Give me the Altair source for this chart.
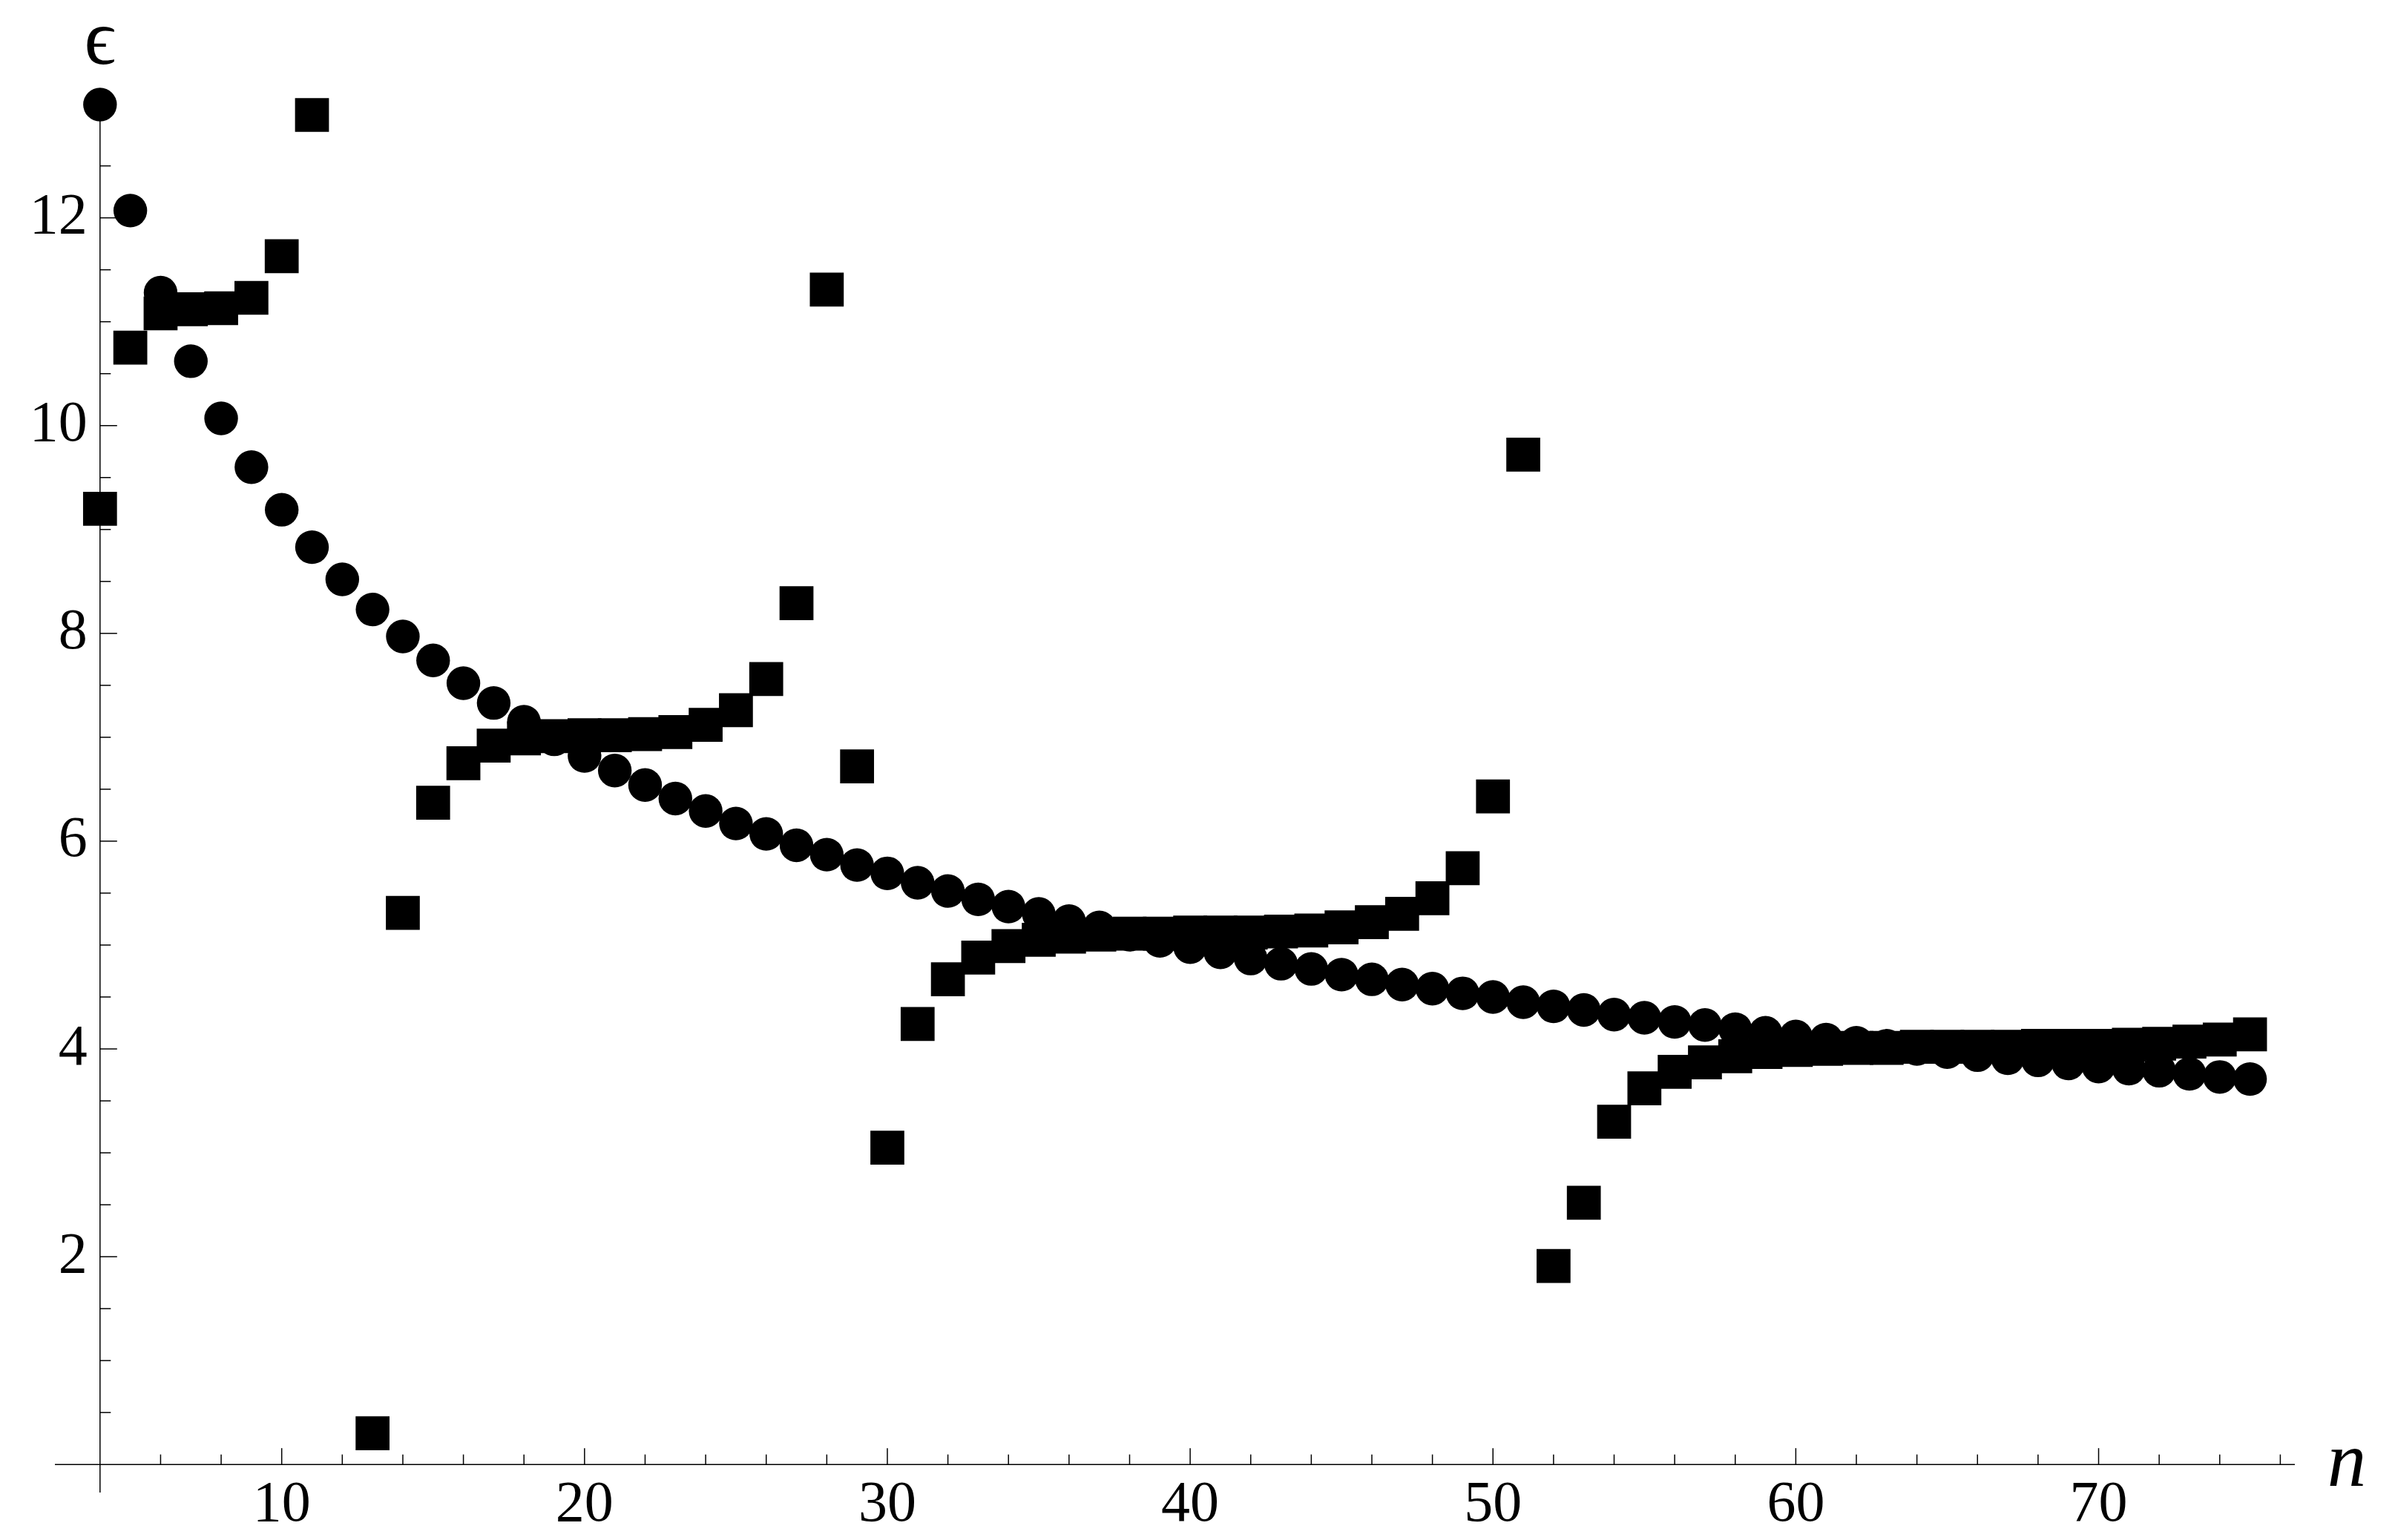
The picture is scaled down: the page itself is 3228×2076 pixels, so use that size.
import altair as alt
import pandas as pd

# ---------------- data ----------------
n_circle = list(range(4, 76))
eps_circle = [13.09, 12.07, 11.28, 10.62, 10.07, 9.60, 9.19, 8.83, 8.52, 8.23,
              7.97, 7.74, 7.52, 7.33, 7.15, 6.98, 6.82, 6.68, 6.54, 6.41,
              6.29, 6.17, 6.07, 5.96, 5.87, 5.77, 5.69, 5.60, 5.52, 5.44,
              5.37, 5.30, 5.23, 5.17, 5.10, 5.04, 4.98, 4.93, 4.87, 4.82,
              4.77, 4.715, 4.67, 4.62, 4.58, 4.535, 4.50, 4.45, 4.41, 4.375,
              4.33, 4.30, 4.26, 4.23, 4.19, 4.155, 4.12, 4.09, 4.06, 4.03,
              4.00, 3.97, 3.94, 3.91, 3.89, 3.86, 3.83, 3.81, 3.79, 3.76,
              3.73, 3.71]

n_square = [4, 5, 6, 7, 8, 9, 10, 11, 13, 14, 15, 16, 17, 18, 19, 20, 21, 22,
            23, 24, 25, 26, 27, 28, 29, 30, 31, 32, 33, 34, 35, 36, 37, 38, 39,
            40, 41, 42, 43, 44, 45, 46, 47, 48, 49, 50, 51, 52, 53, 54, 55, 56,
            57, 58, 59, 60, 61, 62, 63, 64, 65, 66, 67, 68, 69, 70, 71, 72, 73,
            74, 75]
eps_square = [9.20, 10.75, 11.08, 11.12, 11.13, 11.23, 11.63, 12.99, 0.30, 5.31,
              6.37, 6.75, 6.92, 6.99, 7.01, 7.02, 7.02, 7.03, 7.05, 7.12,
              7.26, 7.56, 8.29, 11.31, 6.72, 3.05, 4.24, 4.67, 4.88, 4.99,
              5.05, 5.08, 5.10, 5.11, 5.11, 5.12, 5.12, 5.12, 5.13, 5.14,
              5.17, 5.22, 5.30, 5.45, 5.74, 6.43, 9.72, 1.91, 2.52, 3.30,
              3.62, 3.78, 3.87, 3.93, 3.97, 3.99, 4.00, 4.01, 4.01, 4.02,
              4.02, 4.02, 4.02, 4.03, 4.03, 4.03, 4.04, 4.05, 4.07, 4.09,
              4.14]

x_major_ticks = [10, 20, 30, 40, 50, 60, 70]
x_minor_ticks = [v for v in range(6, 77, 2) if v % 10 != 0]
y_major_ticks = [2, 4, 6, 8, 10, 12]
y_minor_ticks = [v / 2 for v in range(1, 27) if v % 4 != 0]

x_label = "n"
y_label = "\u03f5"

# ---------------- layout ----------------
W, H = 3019, 1892
FONT = "Liberation Serif, Times New Roman, DejaVu Serif, serif"
xs = alt.Scale(domain=[2.51, 76.48], nice=False, zero=False)
ys = alt.Scale(domain=[-0.27, 13.24], nice=False, zero=False)


def X(f):
    return alt.X(f, type="quantitative", scale=xs, axis=None)


def Y(f):
    return alt.Y(f, type="quantitative", scale=ys, axis=None)


circ_df = pd.DataFrame({"n": n_circle, "eps": eps_circle})
sq_df = pd.DataFrame({"n": n_square, "eps": eps_square})
xmaj = pd.DataFrame({"n": x_major_ticks, "y0": 0.0, "lab": [str(v) for v in x_major_ticks]})
xmin = pd.DataFrame({"n": x_minor_ticks, "y0": 0.0})
ymaj = pd.DataFrame({"v": y_major_ticks, "x0": 4.0, "lab": [str(v) for v in y_major_ticks]})
ymin = pd.DataFrame({"v": y_minor_ticks, "x0": 4.0})

x_axis = alt.Chart(pd.DataFrame({"y0": [0.0]})).mark_rule(
    color="black", strokeWidth=1.5
).encode(x=alt.value(0), x2=alt.value(W), y=Y("y0"))

y_axis = alt.Chart(pd.DataFrame({"x0": [4.0]})).mark_rule(
    color="black", strokeWidth=1.5
).encode(x=X("x0"), y=alt.value(0), y2=alt.value(H))

x_ticks_major = alt.Chart(xmaj).mark_tick(
    orient="vertical", size=22, thickness=1.5, color="black", opacity=1, yOffset=-11
).encode(x=X("n"), y=Y("y0"))
x_ticks_minor = alt.Chart(xmin).mark_tick(
    orient="vertical", size=13.5, thickness=1.5, color="black", opacity=1, yOffset=-6.75
).encode(x=X("n"), y=Y("y0"))
y_ticks_major = alt.Chart(ymaj).mark_tick(
    orient="horizontal", size=23, thickness=1.5, color="black", opacity=1, xOffset=11.5
).encode(x=X("x0"), y=Y("v"))
y_ticks_minor = alt.Chart(ymin).mark_tick(
    orient="horizontal", size=14.5, thickness=1.5, color="black", opacity=1, xOffset=7.25
).encode(x=X("x0"), y=Y("v"))

x_tick_labels = alt.Chart(xmaj).mark_text(
    font=FONT, fontSize=78, align="center", baseline="alphabetic", dy=76, color="black"
).encode(x=X("n"), y=Y("y0"), text="lab:N")
y_tick_labels = alt.Chart(ymaj).mark_text(
    font=FONT, fontSize=78, align="right", baseline="alphabetic", dx=-17, dy=20.5, color="black"
).encode(x=X("x0"), y=Y("v"), text="lab:N")

y_title = alt.Chart(pd.DataFrame({"x0": [4.0], "t": [y_label]})).mark_text(
    font=FONT, fontSize=105, align="center", baseline="alphabetic", color="black"
).encode(x=X("x0"), y=alt.value(-34.5), text="t:N")
x_title = alt.Chart(pd.DataFrame({"t": [x_label]})).mark_text(
    font=FONT, fontSize=105, fontStyle="italic", align="center", baseline="alphabetic", color="black"
).encode(x=alt.value(3088.9), y=alt.value(1882.8), text="t:N")

circles = alt.Chart(circ_df).mark_point(
    shape="circle", filled=True, size=2060, color="black", opacity=1, strokeWidth=0
).encode(x=X("n"), y=Y("eps"))
squares = alt.Chart(sq_df).mark_point(
    shape="square", filled=True, size=2090, color="black", opacity=1, strokeWidth=0
).encode(x=X("n"), y=Y("eps"))

chart = alt.layer(
    x_axis, y_axis, x_ticks_major, x_ticks_minor, y_ticks_major, y_ticks_minor,
    x_tick_labels, y_tick_labels, y_title, x_title, circles, squares
).properties(
    width=W, height=H,
    padding={"left": 66, "top": 112, "right": 110, "bottom": 56},
    autosize=alt.AutoSizeParams(type="none"),
    background="white",
).configure_view(strokeWidth=0)

chart.save("out.html", embed_options={"renderer": "svg", "actions": False})
